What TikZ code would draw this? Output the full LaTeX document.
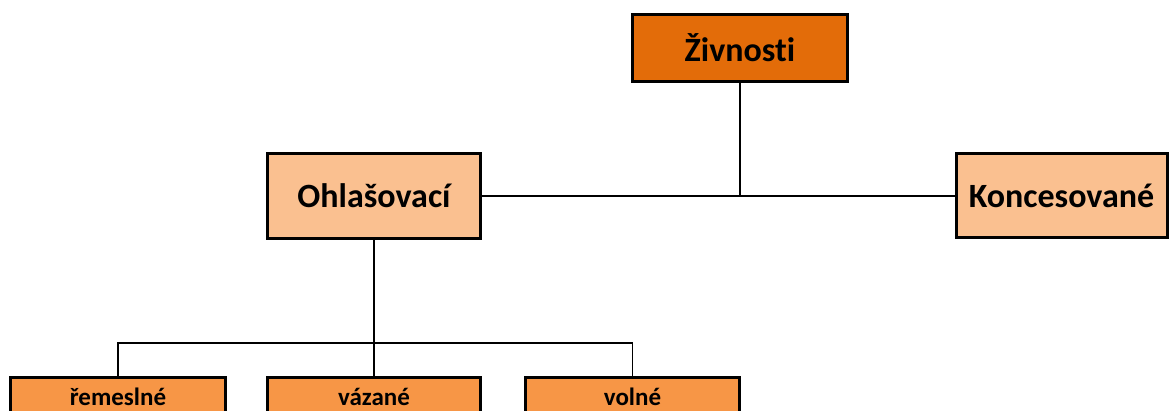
\documentclass[tikz,border=0pt]{standalone}
\usepackage{fontspec}
\setmainfont{Carlito}[Ligatures=CommonOff]
\definecolor{darkor}{HTML}{E36C09}
\definecolor{lightor}{HTML}{FAC090}
\definecolor{midor}{HTML}{F79646}
\begin{document}
\begin{tikzpicture}[x=1pt,y=-1pt,
  boxst/.style={draw=black, line width=3pt, inner sep=0pt, font=\bfseries},
  big/.style={boxst, font=\fontsize{34}{38}\selectfont\bfseries},
  small/.style={boxst, font=\fontsize{25}{28}\selectfont\bfseries, text height=18pt, text depth=6pt},
  conn/.style={draw=black, line width=1.4pt}]
\clip (0,0) rectangle (1170,411);
\fill[white] (0,0) rectangle (1170,411);
\node[big, fill=darkor, minimum width=215pt, minimum height=67pt] (Z) at (740,48) {Živnosti};
\node[big, fill=lightor, minimum width=213pt, minimum height=85pt] (O) at (374,196) {Ohlašovací};
\node[big, fill=lightor, minimum width=211pt, minimum height=84pt] (K) at (1061.5,196) {Koncesované};
\node[small, fill=midor, minimum width=215pt, minimum height=44pt] (R) at (118,400) {řemeslné};
\node[small, fill=midor, minimum width=213pt, minimum height=44pt] (V) at (374,400) {vázané};
\node[small, fill=midor, minimum width=214pt, minimum height=44pt] (N) at (632.5,400) {volné};
\coordinate (j) at (374,343);
\draw[conn] (O.east) -- (K.west);
\draw[conn] (Z.south) -- (Z.south |- O.east);
\draw[conn] (O.south) -- (V.north);
\draw[conn] (R.north) |- (j) -| (N.north);
\end{tikzpicture}
\end{document}
